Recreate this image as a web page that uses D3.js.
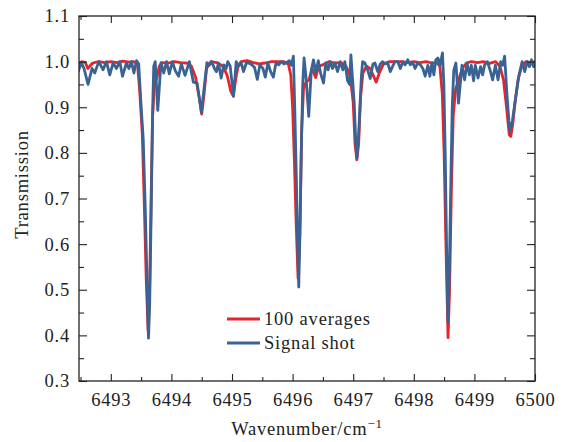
<!DOCTYPE html>
<html>
<head>
<meta charset="utf-8">
<script src="https://cdn.jsdelivr.net/npm/d3@7"></script>
<style>
  body { margin: 0; background: #fff; }
  svg text { font-family: "Liberation Serif", "DejaVu Serif", serif; fill: #222; letter-spacing: 0.8px; }
  .axis path { display: none; }
  .axis line { stroke: #222; stroke-width: 1.1; }
</style>
</head>
<body>
<svg id="chart"></svg>
<script>
let w = 570;
let h = 442;

// Signal shot (blue)
let shotX = [6492.46, 6492.513, 6492.558, 6492.624, 6492.69, 6492.735, 6492.801, 6492.872, 6492.927, 6492.983,
  6493.038, 6493.093, 6493.149, 6493.192, 6493.258, 6493.298, 6493.341, 6493.381, 6493.424, 6493.46,
  6493.501, 6493.535, 6493.568, 6493.601, 6493.622, 6493.642, 6493.667, 6493.688, 6493.708, 6493.733,
  6493.775, 6493.828, 6493.874, 6493.92, 6493.965, 6494.015, 6494.064, 6494.119, 6494.164, 6494.225,
  6494.296, 6494.362, 6494.424, 6494.495, 6494.586, 6494.627, 6494.665, 6494.71, 6494.743, 6494.776,
  6494.821, 6494.864, 6494.904, 6494.93, 6494.97, 6495.025, 6495.069, 6495.107, 6495.152, 6495.19,
  6495.235, 6495.278, 6495.328, 6495.372, 6495.417, 6495.46, 6495.51, 6495.549, 6495.592, 6495.637,
  6495.682, 6495.725, 6495.77, 6495.814, 6495.858, 6495.902, 6495.947, 6495.98, 6496.013,
  6496.035, 6496.059, 6496.084, 6496.101, 6496.117, 6496.142, 6496.167, 6496.189, 6496.225, 6496.266,
  6496.308, 6496.344, 6496.382, 6496.424, 6496.465, 6496.51, 6496.548, 6496.586, 6496.619, 6496.659,
  6496.697, 6496.742, 6496.785, 6496.829, 6496.862, 6496.907, 6496.94, 6496.962, 6496.99, 6497.016,
  6497.044, 6497.061, 6497.086, 6497.111, 6497.136, 6497.155, 6497.193, 6497.238, 6497.281, 6497.326,
  6497.359, 6497.404, 6497.447, 6497.487, 6497.525, 6497.57, 6497.612, 6497.652, 6497.69, 6497.735,
  6497.778, 6497.818, 6497.856, 6497.9, 6497.943, 6497.983, 6498.021, 6498.066, 6498.109, 6498.149,
  6498.187, 6498.232, 6498.265, 6498.298, 6498.331, 6498.364, 6498.397, 6498.43, 6498.473, 6498.496,
  6498.518, 6498.54, 6498.563, 6498.584, 6498.609, 6498.634, 6498.659, 6498.695, 6498.738, 6498.795,
  6498.838, 6498.878, 6498.916, 6498.949, 6498.987, 6499.015, 6499.06, 6499.102, 6499.136, 6499.169,
  6499.213, 6499.258, 6499.301, 6499.346, 6499.39, 6499.433, 6499.466, 6499.499,
  6499.536, 6499.569, 6499.594, 6499.627, 6499.677, 6499.732, 6499.788, 6499.831, 6499.871, 6499.909,
  6499.942, 6499.975, 6500.008];
let shotY = [0.978, 0.997, 0.985, 0.95, 0.985, 0.975, 1.0, 0.982, 1.0, 0.971,
  0.997, 0.985, 1.0, 0.968, 0.997, 0.985, 1.0, 0.975, 1.002, 0.995,
  0.90, 0.83, 0.68, 0.50, 0.394, 0.47, 0.68, 0.88, 0.99, 1.0,
  0.893, 0.998, 0.975, 1.0, 0.973, 1.0, 0.98, 0.968, 0.995, 0.97,
  1.0, 0.955, 0.953, 0.889, 0.998, 0.992, 1.0, 0.985, 0.978, 0.997,
  0.964, 0.993, 0.985, 1.0, 0.99, 0.924, 1.0, 0.99, 0.997, 0.978,
  0.997, 0.997, 0.993, 0.987, 0.961, 0.993, 0.985, 0.966, 0.997, 0.978,
  0.966, 0.997, 0.993, 1.0, 0.995, 0.998, 1.002, 0.992, 1.012,
  0.90, 0.76, 0.60, 0.506, 0.60, 0.80, 0.95, 1.008, 0.96, 0.88,
  0.98, 1.004, 0.976, 1.002, 0.973, 0.953, 0.997, 0.982, 1.0, 0.985,
  0.997, 0.978, 1.0, 0.982, 1.0, 0.958, 0.95, 1.015, 0.96, 0.911,
  0.82, 0.789, 0.83, 0.90, 0.97, 1.0, 0.997, 0.982, 0.963, 0.995,
  0.997, 0.978, 0.995, 1.0, 0.995, 0.997, 0.978, 0.99, 1.0, 1.0,
  0.985, 1.0, 0.993, 1.004, 0.993, 0.998, 0.985, 0.997, 0.993, 0.985,
  0.968, 0.992, 0.968, 0.997, 0.971, 1.004, 1.008, 0.992, 1.019, 0.95,
  0.80, 0.60, 0.43, 0.52, 0.72, 0.90, 0.98, 0.997, 0.909, 0.992,
  0.96, 0.997, 0.971, 0.992, 0.958, 0.992, 0.964, 0.989, 0.971, 0.993,
  1.0, 0.982, 0.96, 0.992, 0.96, 1.0, 0.992, 1.012,
  0.93, 0.87, 0.847, 0.87, 0.917, 0.968, 1.0, 0.978, 1.0, 0.989,
  1.004, 0.989, 1.0];

// 100 averages (red)
let avgX = [6492.46, 6492.52, 6492.58, 6492.62, 6492.7, 6492.8, 6492.9, 6493.0, 6493.1, 6493.2,
  6493.3, 6493.38, 6493.44, 6493.48, 6493.52, 6493.55, 6493.585, 6493.615, 6493.64, 6493.665,
  6493.69, 6493.72, 6493.76, 6493.8, 6493.85, 6493.95, 6494.05, 6494.15, 6494.25, 6494.33,
  6494.4, 6494.46, 6494.5, 6494.54, 6494.58, 6494.65, 6494.75, 6494.85, 6494.92, 6494.98,
  6495.02, 6495.06, 6495.1, 6495.15, 6495.25, 6495.35, 6495.45, 6495.55, 6495.65, 6495.75,
  6495.85, 6495.93, 6495.97, 6496.0, 6496.03, 6496.06, 6496.09, 6496.12, 6496.15, 6496.18,
  6496.22, 6496.27, 6496.32, 6496.38, 6496.43, 6496.5, 6496.6, 6496.7, 6496.8, 6496.88,
  6496.95, 6497.0, 6497.03, 6497.06, 6497.09, 6497.12, 6497.16, 6497.22, 6497.28, 6497.33,
  6497.38, 6497.43, 6497.5, 6497.6, 6497.7, 6497.8, 6497.9, 6498.0, 6498.1, 6498.2,
  6498.3, 6498.38, 6498.43, 6498.47, 6498.5, 6498.53, 6498.565, 6498.59, 6498.62, 6498.65,
  6498.69, 6498.74, 6498.8, 6498.87, 6498.95, 6499.05, 6499.15, 6499.25, 6499.35, 6499.42,
  6499.48, 6499.53, 6499.575, 6499.6, 6499.63, 6499.67, 6499.72, 6499.78, 6499.85, 6499.92,
  6500.0];
let avgY = [0.995, 1.0, 0.998, 0.985, 0.997, 1.0, 0.998, 1.0, 0.998, 1.001,
  0.999, 1.0, 0.995, 0.93, 0.84, 0.70, 0.52, 0.41, 0.50, 0.70,
  0.88, 0.95, 0.965, 0.99, 0.998, 0.997, 1.0, 0.998, 0.997, 0.99,
  0.965, 0.92, 0.885, 0.93, 0.985, 1.0, 0.998, 0.99, 0.97, 0.935,
  0.925, 0.96, 0.99, 1.0, 1.002, 0.998, 0.995, 0.997, 1.0, 1.0,
  1.0, 0.995, 0.97, 0.90, 0.78, 0.64, 0.525, 0.62, 0.85, 0.94,
  0.955, 0.96, 0.985, 0.965, 0.99, 0.993, 1.0, 0.997, 0.998, 0.99,
  0.97, 0.91, 0.82, 0.785, 0.82, 0.92, 0.975, 0.99, 0.985, 0.97,
  0.955, 0.975, 0.995, 1.0, 1.0, 1.0, 0.998, 1.0, 0.998, 1.0,
  0.997, 0.998, 0.99, 0.93, 0.80, 0.60, 0.395, 0.50, 0.72, 0.88,
  0.94, 0.96, 0.985, 0.997, 1.0, 0.998, 1.0, 0.996, 1.0, 0.99,
  0.96, 0.90, 0.84, 0.836, 0.86, 0.91, 0.96, 0.99, 1.0, 0.998,
  1.0];

let xTicks = [6493, 6494, 6495, 6496, 6497, 6498, 6499, 6500];
let xMinor = [6492.5, 6493.5, 6494.5, 6495.5, 6496.5, 6497.5, 6498.5, 6499.5];
let yTicks = [0.3, 0.4, 0.5, 0.6, 0.7, 0.8, 0.9, 1.0, 1.1];
let yMinor = [0.35, 0.45, 0.55, 0.65, 0.75, 0.85, 0.95, 1.05];

let seriesNames = ['100 averages', 'Signal shot'];
let seriesColors = ['#e8232a', '#3a6394'];

let mLeft = 79, mRight = 535, mTop = 16, mBottom = 381;

function initGraph() {
  let svg = d3.select('#chart')
    .attr('width', w)
    .attr('height', h);

  let xScale = d3.scaleLinear()
    .domain([6492.475, 6500])
    .range([mLeft, mRight]);

  let yScale = d3.scaleLinear()
    .domain([0.3, 1.1])
    .range([mBottom, mTop]);

  svg.append('clipPath')
    .attr('id', 'plotclip')
    .append('rect')
    .attr('x', mLeft).attr('y', mTop)
    .attr('width', mRight - mLeft).attr('height', mBottom - mTop);

  let line = d3.line()
    .x(d => xScale(d[0]))
    .y(d => yScale(d[1]));

  let avg = avgX.map((x, i) => [x, avgY[i]]);
  let shot = shotX.map((x, i) => [x, shotY[i]]);

  let plot = svg.append('g').attr('clip-path', 'url(#plotclip)');
  [avg, shot].forEach((data, i) => {
    plot.append('path')
      .attr('d', line(data))
      .attr('fill', 'none')
      .attr('stroke', seriesColors[i])
      .attr('stroke-width', 2.8)
      .attr('stroke-linejoin', 'round');
  });

  // axes, ticks pointing inward on all four sides
  let fmtY = d3.format('.1f');
  svg.append('g').attr('class', 'axis')
    .attr('transform', `translate(0,${mBottom})`)
    .call(d3.axisBottom(xScale).tickValues(xTicks).tickSizeInner(-7).tickPadding(12).tickFormat(d3.format('d')))
    .call(g => g.selectAll('text').attr('font-size', 18.5).attr('fill', '#222')
      .attr('font-family', '"Liberation Serif", serif'));
  svg.append('g').attr('class', 'axis')
    .attr('transform', `translate(0,${mBottom})`)
    .call(d3.axisBottom(xScale).tickValues(xMinor).tickSizeInner(-4).tickFormat(''));
  svg.append('g').attr('class', 'axis')
    .attr('transform', `translate(0,${mTop})`)
    .call(d3.axisTop(xScale).tickValues(xTicks).tickSizeInner(-7).tickFormat(''));
  svg.append('g').attr('class', 'axis')
    .attr('transform', `translate(0,${mTop})`)
    .call(d3.axisTop(xScale).tickValues(xMinor).tickSizeInner(-4).tickFormat(''));

  svg.append('g').attr('class', 'axis')
    .attr('transform', `translate(${mLeft},0)`)
    .call(d3.axisLeft(yScale).tickValues(yTicks).tickSizeInner(-8).tickPadding(9).tickFormat(fmtY))
    .call(g => g.selectAll('text').attr('font-size', 18.5).attr('fill', '#222')
      .attr('font-family', '"Liberation Serif", serif'));
  svg.append('g').attr('class', 'axis')
    .attr('transform', `translate(${mLeft},0)`)
    .call(d3.axisLeft(yScale).tickValues(yMinor).tickSizeInner(-5).tickFormat(''));
  svg.append('g').attr('class', 'axis')
    .attr('transform', `translate(${mRight},0)`)
    .call(d3.axisRight(yScale).tickValues(yTicks).tickSizeInner(-8).tickFormat(''));
  svg.append('g').attr('class', 'axis')
    .attr('transform', `translate(${mRight},0)`)
    .call(d3.axisRight(yScale).tickValues(yMinor).tickSizeInner(-5).tickFormat(''));

  svg.append('rect')
    .attr('x', mLeft).attr('y', mTop)
    .attr('width', mRight - mLeft).attr('height', mBottom - mTop)
    .attr('fill', 'none')
    .attr('stroke', '#222')
    .attr('stroke-width', 1.3);

  // axis titles
  let xt = svg.append('text')
    .attr('x', (mLeft + mRight) / 2)
    .attr('y', 435)
    .attr('text-anchor', 'middle')
    .attr('font-size', 18.5);
  xt.append('tspan').text('Wavenumber/cm');
  xt.append('tspan').attr('dy', -7).attr('font-size', 13).text('\u22121');

  svg.append('text')
    .attr('transform', `translate(28,${(mTop + mBottom) / 2 - 14}) rotate(-90)`)
    .attr('text-anchor', 'middle')
    .attr('font-size', 18.5)
    .text('Transmission');

  // legend
  let legend = svg.append('g');
  seriesNames.forEach((name, i) => {
    let yy = 319 + i * 24;
    legend.append('line')
      .attr('x1', 227).attr('x2', 260)
      .attr('y1', yy).attr('y2', yy)
      .attr('stroke', seriesColors[i])
      .attr('stroke-width', 2.8);
    legend.append('text')
      .attr('x', 264).attr('y', yy + 6)
      .attr('font-size', 18.5)
      .text(name);
  });
}

window.onload = initGraph;
</script>
</body>
</html>
